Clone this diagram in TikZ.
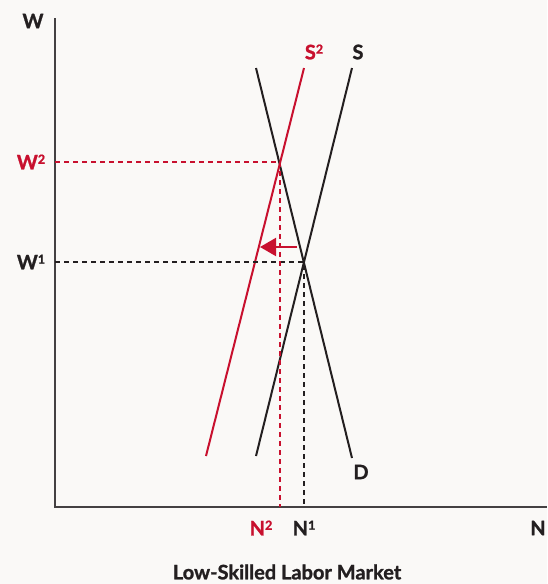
\documentclass[tikz,border=0pt]{standalone}
\usepackage{fontspec}
\setmainfont{Lato}[BoldFeatures={FakeBold=1.2}]
\usetikzlibrary{arrows.meta}
\definecolor{bg}{HTML}{FAF9F7}
\definecolor{myred}{HTML}{C8102E}
\definecolor{myblack}{HTML}{231F20}
\newcommand{\sups}[1]{\raisebox{0.55ex}{\fontsize{12.5}{12.5}\selectfont #1}}
\begin{document}
\begin{tikzpicture}[x=1pt,y=-1pt,
  lbl/.style={font=\fontsize{20}{20}\selectfont\bfseries, text=myblack, inner sep=0pt},
  rlbl/.style={lbl, text=myred},
  curve/.style={line width=2pt, myblack},
  rcurve/.style={line width=2pt, myred},
  guide/.style={line width=1.6pt, dash pattern=on 5pt off 4pt}]
\fill[bg] (0,0) rectangle (547,584);
\useasboundingbox (0,0) rectangle (547,584);
% axes
\coordinate (O) at (55,507);
\coordinate (Ytop) at (55,18);
\coordinate (Xend) at (547,507);
\draw[line width=1.3pt, myblack!85] (Ytop) -- (O) -- (Xend);
% curves
\coordinate (Dt) at (256,68); \coordinate (Db) at (352,458);
\coordinate (St) at (352,68); \coordinate (Sb) at (256,456);
\coordinate (S2t) at (304,68); \coordinate (S2b) at (206,456);
\draw[curve] (Dt) -- (Db);
\draw[curve] (Sb) -- (St);
\draw[rcurve] (S2b) -- (S2t);
% equilibria
\coordinate (E1) at (304,262);
\coordinate (E2) at (280,162);
\coordinate (W1a) at (55,262);
\coordinate (W2a) at (55,162);
\coordinate (N1a) at (304,507);
\coordinate (N2a) at (280,507);
\draw[guide, myblack] (W1a) -- (E1) -- (N1a);
\draw[guide, myred] (W2a) -- (E2) -- (N2a);
% shift arrow
\coordinate (A0) at (297,247);
\coordinate (A1) at (260,247);
\draw[rcurve, -{Triangle[length=16pt,width=18pt]}] (A0) -- (A1);
% labels
\node[lbl] (W) at (33,21) {W};
\node[lbl] (N) at (538,528) {N};
\node[rlbl] (S2) at (314,52) {S\sups{2}};
\node[lbl] (S) at (358,52) {S};
\node[lbl] (D) at (361,472) {D};
\node[rlbl] (W2) at (31,162) {W\sups{2}};
\node[lbl] (W1) at (31,262) {W\sups{1}};
\node[rlbl] (N2) at (261,528) {N\sups{2}};
\node[lbl] (N1) at (304,528) {N\sups{1}};
\node[lbl, font=\fontsize{20}{20}\selectfont\bfseries] (T) at (287,572) {Low-Skilled Labor Market};
\end{tikzpicture}
\end{document}
